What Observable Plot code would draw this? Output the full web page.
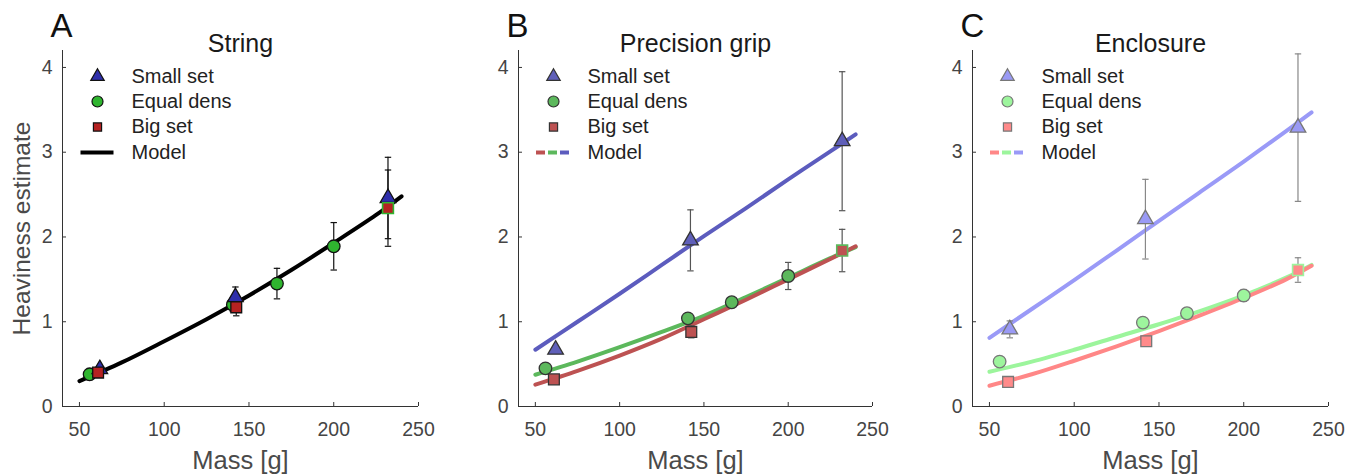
<!DOCTYPE html>
<html><head><meta charset="utf-8">
<script src="https://cdn.jsdelivr.net/npm/d3@7"></script>
<script src="https://cdn.jsdelivr.net/npm/@observablehq/plot@0.6"></script>
<style>
body{margin:0;background:#fff;}
#row{display:flex;width:1356px;height:476px;overflow:hidden;}
</style></head><body><div id="row"></div>
<script>
// ---------- shared axes / labels ----------
const xTicks = [50, 100, 150, 200, 250];
const yTicks = [0, 1, 2, 3, 4];
const xDomain = [40, 250];
const yDomain = [0, 4.2];
const seriesNames = ["Small set", "Equal dens", "Big set", "Model"];
const panelLetters = ["A", "B", "C"];
const panelTitles = ["String", "Precision grip", "Enclosure"];
const xLabel = "Mass [g]";
const yLabel = "Heaviness estimate";

// ---------- object masses (g) ----------
const smallMass = [62, 142, 232];
const equalMass = [56, 140.5, 166.5, 200];
const bigMass = [61, 142.5, 232];
const sharedMass = 232;           // object in both Equal dens and Big set
const modelMass = [50, 75, 100, 125, 150, 175, 200, 225, 240];

// ---------- A: String ----------
const stringSmall = [0.44, 1.29, 2.46];
const stringSmallErr = [0.04, 0.12, 0.48];
const stringEqual = [0.38, 1.20, 1.45, 1.89];
const stringEqualErr = [0.03, 0.08, 0.18, 0.28];
const stringBig = [0.40, 1.17, 2.34];
const stringBigErr = [0.03, 0.10, 0.45];
const stringModel = [0.30, 0.52, 0.77, 1.03, 1.31, 1.61, 1.93, 2.26, 2.48];

// ---------- B: Precision grip ----------
const gripSmall = [0.67, 1.96, 3.13];
const gripSmallErr = [0.02, 0.36, 0.82];
const gripEqual = [0.45, 1.04, 1.23, 1.54];
const gripEqualErr = [0.03, 0.04, 0.04, 0.16];
const gripBig = [0.32, 0.88, 1.84];
const gripBigErr = [0.02, 0.07, 0.25];
const gripModelSmall = [0.67, 1.00, 1.33, 1.67, 2.01, 2.34, 2.68, 3.01, 3.21];
const gripModelEqual = [0.375, 0.53, 0.70, 0.88, 1.07, 1.29, 1.52, 1.75, 1.88];
const gripModelBig = [0.257, 0.42, 0.60, 0.80, 1.03, 1.26, 1.50, 1.74, 1.89];

// ---------- C: Enclosure ----------
const enclSmall = [0.91, 2.21, 3.29];
const enclSmallErr = [0.10, 0.47, 0.87];
const enclEqual = [0.53, 0.99, 1.10, 1.31];
const enclEqualErr = [0.02, 0.03, 0.05, 0.07];
const enclBig = [0.29, 0.77, 1.61];
const enclBigErr = [0.02, 0.03, 0.145];
const enclModelSmall = [0.81, 1.15, 1.49, 1.84, 2.19, 2.54, 2.89, 3.25, 3.47];
const enclModelEqual = [0.41, 0.53, 0.67, 0.82, 0.97, 1.13, 1.31, 1.52, 1.67];
const enclModelBig = [0.245, 0.38, 0.54, 0.71, 0.89, 1.08, 1.28, 1.50, 1.66];

// ---------- styling ----------
const FONT = "'Liberation Sans', Arial, Helvetica, sans-serif";
const W = 452, H = 476, MT = 50, MB = 70;
const plotH = H - MT - MB;

const capSymbol = {draw(ctx) { ctx.moveTo(-3.2, 0); ctx.lineTo(3.2, 0); }};
const longBar = {draw(ctx) { ctx.rect(-16.5, -2, 33, 4); }};
const dashBar = {draw(ctx) { ctx.rect(-4.5, -2, 9, 4); }};

const panels = [
  {
    small: stringSmall, smallErr: stringSmallErr, equal: stringEqual, equalErr: stringEqualErr,
    big: stringBig, bigErr: stringBigErr,
    models: [{v: stringModel, c: "#000000"}],
    cS: "#2e2eab", cE: "#2fb52f", cB: "#b52222", edge: "#111", err: "#111",
    legendLine: [{sym: longBar, dx: 34.5, c: "#000000"}],
    ml: 62, mr: 34, yLabel: true
  },
  {
    small: gripSmall, smallErr: gripSmallErr, equal: gripEqual, equalErr: gripEqualErr,
    big: gripBig, bigErr: gripBigErr,
    models: [{v: gripModelSmall, c: "#5c5cbe"}, {v: gripModelEqual, c: "#5cb85c"}, {v: gripModelBig, c: "#bd5252"}],
    cS: "#5f5fb9", cE: "#5cb85c", cB: "#bd5252", edge: "#333", err: "#555",
    legendLine: [{sym: dashBar, dx: 22, c: "#bd5252"}, {sym: dashBar, dx: 34, c: "#5cb85c"}, {sym: dashBar, dx: 46, c: "#5c5cbe"}],
    ml: 66, mr: 32, yLabel: false
  },
  {
    small: enclSmall, smallErr: enclSmallErr, equal: enclEqual, equalErr: enclEqualErr,
    big: enclBig, bigErr: enclBigErr,
    models: [{v: enclModelSmall, c: "#9a9af7"}, {v: enclModelEqual, c: "#9cf59c"}, {v: enclModelBig, c: "#ff8787"}],
    cS: "#9a9af5", cE: "#9df59d", cB: "#ff8a8a", edge: "#777", err: "#888",
    legendLine: [{sym: dashBar, dx: 22, c: "#ff8787"}, {sym: dashBar, dx: 34, c: "#9cf59c"}, {sym: dashBar, dx: 46, c: "#9a9af7"}],
    ml: 68, mr: 28, yLabel: false
  }
];

function pts(mass, val, err) { return mass.map((m, i) => ({m, v: val[i], e: err ? err[i] : 0})); }

function errMarks(data, color) {
  return [
    Plot.ruleX(data, {x: "m", y1: d => d.v - d.e, y2: d => d.v + d.e, stroke: color, strokeWidth: 1.2}),
    Plot.dot(data, {x: "m", y: d => d.v + d.e, symbol: capSymbol, fill: "none", stroke: color, strokeWidth: 1.2, r: 3}),
    Plot.dot(data, {x: "m", y: d => d.v - d.e, symbol: capSymbol, fill: "none", stroke: color, strokeWidth: 1.2, r: 3})
  ];
}

function makePanel(p, k) {
  const S = pts(smallMass, p.small, p.smallErr);
  const E = pts(equalMass, p.equal, p.equalErr);
  const B = pts(bigMass, p.big, p.bigErr);
  const axisColor = "#333";
  const marks = [
    // axis lines
    Plot.ruleX([xDomain[0]], {x: d => d, stroke: axisColor, strokeWidth: 1}),
    Plot.ruleY([yDomain[0]], {y: d => d, stroke: axisColor, strokeWidth: 1}),
    // inward ticks
    Plot.tickX(xTicks, {x: d => d, insetTop: plotH - 4, stroke: axisColor}),
    Plot.tickY(yTicks, {y: d => d, insetRight: (W - p.ml - p.mr) - 4, stroke: axisColor}),
    Plot.axisX({ticks: xTicks, tickSize: 0, tickPadding: 16, label: null, fontSize: 19.5, fill: "#454545", tickFormat: d => String(d)}),
    Plot.axisY({ticks: yTicks, tickSize: 0, tickPadding: 10, label: null, fontSize: 19.5, fill: "#454545", tickFormat: d => String(d)}),
    // model curves
    ...p.models.map(md => Plot.line(modelMass.map((m, i) => ({m, v: md.v[i]})),
      {x: "m", y: "v", stroke: md.c, strokeWidth: 4, curve: "catmull-rom"})),
    // error bars
    ...errMarks(E, p.err),
    ...errMarks(S, p.err),
    ...errMarks(B, p.err),
    // markers
    Plot.dot(E, {x: "m", y: "v", r: 6.3, fill: p.cE, stroke: p.edge, strokeWidth: 1.3}),
    Plot.dot(S, {x: "m", y: "v", r: 5.8, symbol: "triangle", fill: p.cS, stroke: p.edge, strokeWidth: 1.3}),
    Plot.dot(B, {x: "m", y: "v", r: 6.1, symbol: "square", fill: p.cB, stroke: p.edge, strokeWidth: 1.3, filter: d => d.m !== sharedMass}),
    Plot.dot(B, {x: "m", y: "v", r: 6.1, symbol: "square", fill: p.cB, stroke: p.cE, strokeWidth: 1.6, filter: d => d.m === sharedMass}),
    // legend
    Plot.dot([0], {frameAnchor: "top-left", dx: 35, dy: 26, symbol: "triangle", r: 5, fill: p.cS, stroke: p.edge, strokeWidth: 1.2}),
    Plot.dot([0], {frameAnchor: "top-left", dx: 35, dy: 51, symbol: "circle", r: 5.5, fill: p.cE, stroke: p.edge, strokeWidth: 1.2}),
    Plot.dot([0], {frameAnchor: "top-left", dx: 35, dy: 76.5, symbol: "square", r: 4.6, fill: p.cB, stroke: p.edge, strokeWidth: 1.2}),
    ...p.legendLine.map(l => Plot.dot([0], {frameAnchor: "top-left", dx: l.dx, dy: 102, symbol: l.sym, r: 5, fill: l.c, stroke: "none"})),
    ...seriesNames.map((name, i) => Plot.text([name], {frameAnchor: "top-left", text: d => d, dx: 69, dy: [26, 51, 76.5, 102][i],
      textAnchor: "start", lineAnchor: "middle", fontSize: 20, fill: "#222"})),
    // titles and labels
    Plot.text([panelTitles[k]], {frameAnchor: "top", text: d => d, dy: -7, textAnchor: "middle", lineAnchor: "middle", fontSize: 25, fill: "#1a1a1a"}),
    Plot.text([panelLetters[k]], {frameAnchor: "top-left", text: d => d, dx: -12, dy: -24, textAnchor: "start", lineAnchor: "middle", fontSize: 33, fill: "#111"}),
    Plot.text([xLabel], {frameAnchor: "bottom", text: d => d, dy: 54, textAnchor: "middle", lineAnchor: "middle", fontSize: 25.5, fill: "#4a4a4a"})
  ];
  if (p.yLabel) {
    marks.push(Plot.text([yLabel], {frameAnchor: "left", text: d => d, dx: -40.5, rotate: -90, textAnchor: "middle", lineAnchor: "middle", fontSize: 24.5, fill: "#4a4a4a"}));
  }
  return Plot.plot({
    width: W, height: H,
    marginTop: MT, marginBottom: MB, marginLeft: p.ml, marginRight: p.mr,
    x: {domain: xDomain},
    y: {domain: yDomain},
    style: {fontFamily: FONT, fontSize: "19px", background: "white", color: "#444", overflow: "visible"},
    marks
  });
}

const row = document.getElementById("row");
panels.forEach((p, k) => row.appendChild(makePanel(p, k)));
</script>
</body></html>
